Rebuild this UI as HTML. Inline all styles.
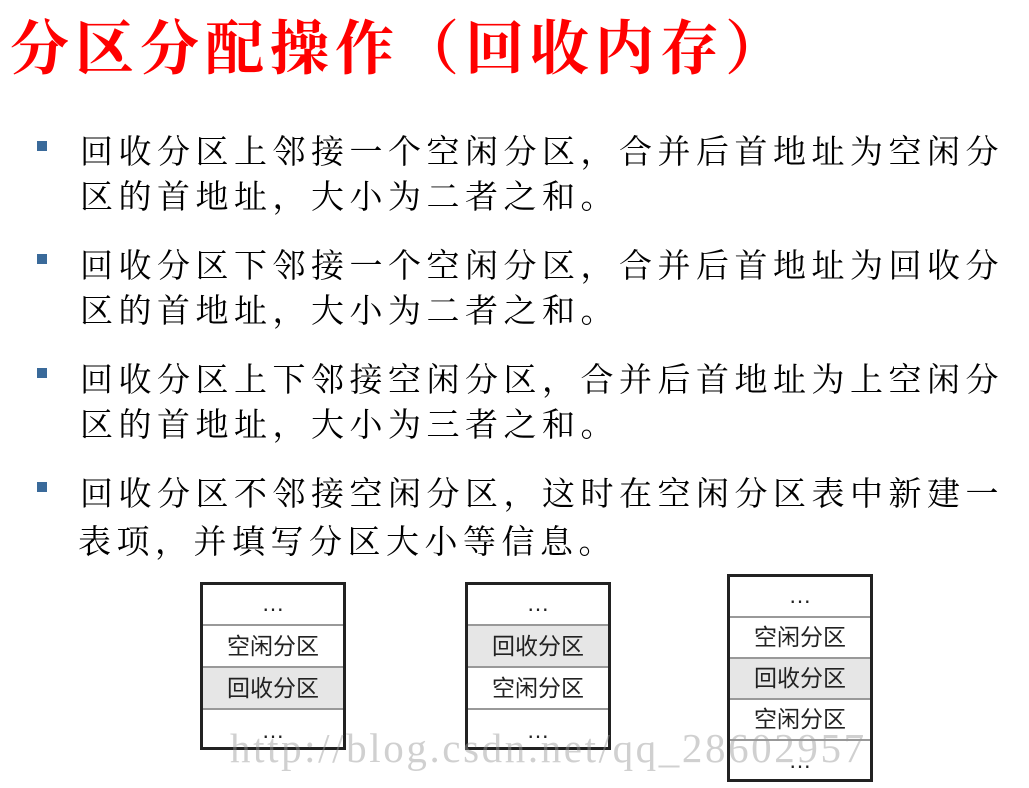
<!DOCTYPE html>
<html><head><meta charset="utf-8"><style>
body{margin:0;width:1029px;height:788px;background:#fff;position:relative;overflow:hidden}
.t{position:absolute;left:10px;top:14px;font:bold 59px/70px "Liberation Serif","Noto Serif CJK SC",serif;color:#f00;letter-spacing:6px;white-space:nowrap}
.l{position:absolute;left:80px;font:33px/45px "Liberation Serif","Noto Serif CJK SC",serif;color:#000;letter-spacing:5.5px;white-space:nowrap}
.b{position:absolute;left:37px;width:10px;height:10px;background:#3a6a9a}
.box{position:absolute;border:3px solid #222;box-sizing:border-box;background:#fff}
.r{position:absolute;left:0;right:0;border-top:2px solid #999;text-align:center;font:23px "Liberation Sans","Noto Sans CJK SC",sans-serif;color:#222;box-sizing:border-box}
.g{background:#e6e6e6}
.wm{position:absolute;left:230px;top:724px;font:41px "Liberation Serif",serif;color:rgba(150,150,150,0.45);letter-spacing:2.6px;white-space:nowrap}
</style></head><body>
<div class="t">分区分配操作（回收内存）</div>
<div class="b" style="top:141px"></div>
<div class="l" style="top:131px">回收分区上邻接一个空闲分区，合并后首地址为空闲分</div>
<div class="l" style="top:176px">区的首地址，大小为二者之和。</div>
<div class="b" style="top:254px"></div>
<div class="l" style="top:245px">回收分区下邻接一个空闲分区，合并后首地址为回收分</div>
<div class="l" style="top:290px">区的首地址，大小为二者之和。</div>
<div class="b" style="top:368px"></div>
<div class="l" style="top:359px">回收分区上下邻接空闲分区，合并后首地址为上空闲分</div>
<div class="l" style="top:404px">区的首地址，大小为三者之和。</div>
<div class="b" style="top:482px"></div>
<div class="l" style="top:473px">回收分区不邻接空闲分区，这时在空闲分区表中新建一</div>
<div class="l" style="top:521px;left:78px">表项，并填写分区大小等信息。</div>

<div class="box" style="left:200px;top:582px;width:146px;height:168px">
<div class="r" style="top:-2px;height:41px;line-height:41px;border-top:none">…</div>
<div class="r" style="top:39px;height:42px;line-height:40px">空闲分区</div>
<div class="r g" style="top:81px;height:42px;line-height:40px">回收分区</div>
<div class="r" style="top:123px;height:40px;line-height:40px">…</div>
</div>
<div class="box" style="left:465px;top:582px;width:146px;height:168px">
<div class="r" style="top:-2px;height:41px;line-height:41px;border-top:none">…</div>
<div class="r g" style="top:39px;height:42px;line-height:40px">回收分区</div>
<div class="r" style="top:81px;height:42px;line-height:40px">空闲分区</div>
<div class="r" style="top:123px;height:40px;line-height:40px">…</div>
</div>
<div class="box" style="left:727px;top:574px;width:146px;height:208px">
<div class="r" style="top:-2px;height:41px;line-height:41px;border-top:none">…</div>
<div class="r" style="top:39px;height:41px;line-height:39px">空闲分区</div>
<div class="r g" style="top:80px;height:41px;line-height:39px">回收分区</div>
<div class="r" style="top:121px;height:41px;line-height:39px">空闲分区</div>
<div class="r" style="top:162px;height:41px;line-height:39px">…</div>
</div>
<div class="wm">http://blog.csdn.net/qq_28602957</div>
</body></html>
